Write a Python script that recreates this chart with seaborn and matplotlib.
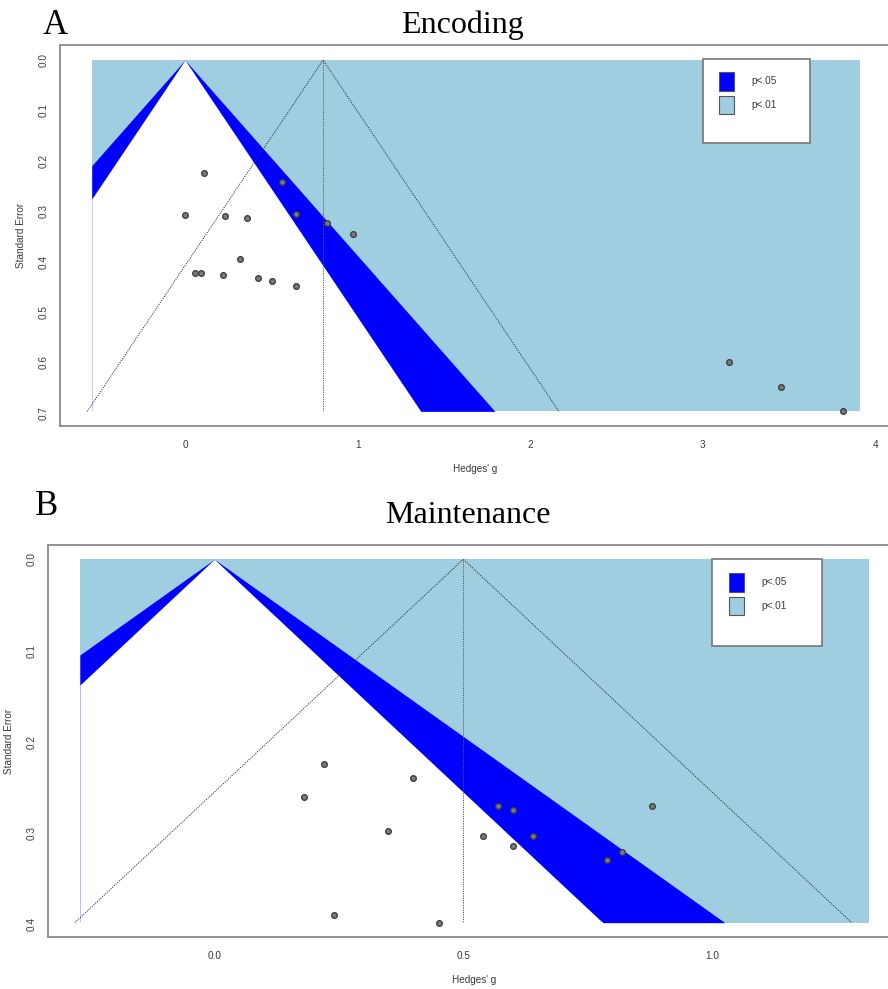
import numpy as np
import pandas as pd
import matplotlib
matplotlib.use("Agg")
import matplotlib.pyplot as plt
from matplotlib.patches import Patch, Rectangle
import seaborn as sns

# ---------------- data ----------------
enc_g = [0.112, 0.562, 0.002, 0.234, 0.361, 0.643, 0.823, 0.971, 0.321,
         0.060, 0.093, 0.222, 0.421, 0.502, 0.641, 3.150, 3.451, 3.810]
enc_se = [0.225, 0.241, 0.308, 0.310, 0.313, 0.305, 0.323, 0.346, 0.395,
          0.423, 0.423, 0.426, 0.433, 0.438, 0.448, 0.600, 0.649, 0.697]
enc_est = 0.80

mnt_g = [0.220, 0.400, 0.180, 0.569, 0.600, 0.349, 0.539, 0.640, 0.600,
         0.789, 0.819, 0.240, 0.451, 0.879]
mnt_se = [0.224, 0.240, 0.260, 0.270, 0.275, 0.298, 0.3035, 0.3035, 0.314,
          0.329, 0.321, 0.390, 0.398, 0.270]
mnt_est = 0.50

enc_xticks = [0, 1, 2, 3, 4]
enc_xticklabels = ["0", "1", "2", "3", "4"]
enc_yticks = [0.0, 0.1, 0.2, 0.3, 0.4, 0.5, 0.6, 0.7]
mnt_xticks = [0.0, 0.5, 1.0]
mnt_xticklabels = ["0.0", "0.5", "1.0"]
mnt_yticks = [0.0, 0.1, 0.2, 0.3, 0.4]

legend_labels = ["p<.05", "p<.01"]
z05, z01 = 1.96, 2.576

# ---------------- style ----------------
sns.set_theme(style="white")
plt.rcParams["font.family"] = ["Liberation Sans", "DejaVu Sans"]

BLUE = "#0000FF"
LBLUE = "#9FCEE0"
GRAY = "#8a8a8a"
TXT = "#3a3a3a"

W, H = 888, 989
fig = plt.figure(figsize=(W / 100, H / 100), dpi=100)


def px_axes(l, t, r, b):
    return fig.add_axes([l / W, 1 - b / H, (r - l) / W, (b - t) / H])


def funnel(ax, g, se, est, fill_x, xlim, ylim, xticks, xticklabels, yticks, yfmt):
    semax = max(se)
    xl, xr = fill_x
    s = np.linspace(0, semax, 400)
    # outer light blue region
    ax.fill_between([xl, xr], 0, semax, color=LBLUE, lw=0, zorder=1)
    # blue band (between z05 and z01)
    ax.fill_betweenx(s, np.clip(-z01 * s, xl, xr), np.clip(z01 * s, xl, xr),
                     color=BLUE, lw=0, zorder=2)
    # white region (|z| < 1.96)
    ax.fill_betweenx(s, np.clip(-z05 * s, xl, xr), np.clip(z05 * s, xl, xr),
                     color="white", lw=0, zorder=3)
    wl, wr = max(-z05 * semax, xl), min(z05 * semax, xr)
    ax.fill_between([wl, wr], semax - 0.0003, semax + 0.006, color="white",
                    lw=0, zorder=3)
    # pseudo-confidence triangle around estimate
    ax.plot([est - z05 * semax, est, est + z05 * semax], [semax, 0, semax],
            ls=(0, (1.2, 1.2)), color="#333333", lw=0.7, zorder=4)
    ax.plot([est, est], [0, semax], ls=(0, (1.2, 1.2)), color="#555555",
            lw=0.7, zorder=4)
    df = pd.DataFrame({"g": g, "se": se})
    sns.scatterplot(data=df, x="g", y="se", ax=ax, s=17, color="#7a7a7a",
                    edgecolor="#3a3a3a", linewidth=0.9, zorder=5, legend=False)
    ax.set_xlim(*xlim)
    ax.set_ylim(*ylim)
    ax.set_xticks(xticks)
    ax.set_xticklabels(xticklabels)
    ax.set_yticks(yticks)
    ax.set_yticklabels([yfmt.format(v) for v in yticks], rotation=90, va="center")
    ax.tick_params(axis="both", which="both", direction="out", length=5,
                   width=1, color=GRAY, labelsize=7.2, labelcolor=TXT)
    ax.tick_params(axis="x", pad=5)
    ax.tick_params(axis="y", pad=3)
    for side in ["left", "top", "bottom"]:
        ax.spines[side].set_visible(True)
        ax.spines[side].set_color(GRAY)
        ax.spines[side].set_linewidth(1.3)
    ax.spines["right"].set_visible(False)
    ax.set_xlabel("Hedges' g", fontsize=7.2, color=TXT, labelpad=10.5)
    ax.set_ylabel("Standard Error", fontsize=7.2, color=TXT, labelpad=9)
    ax.grid(False)
    ax.set_facecolor("white")


def legend_box(ax, l, t, r, b, hx, hy):
    fig.add_artist(Rectangle((l / W, 1 - b / H), (r - l) / W, (b - t) / H,
                             transform=fig.transFigure, facecolor="white",
                             edgecolor="#777777", lw=1.2, zorder=10))
    handles = [Patch(facecolor=BLUE, edgecolor="#555555", lw=0.8),
               Patch(facecolor=LBLUE, edgecolor="#555555", lw=0.8)]
    leg = fig.legend(handles=handles, labels=legend_labels, loc="upper left",
                     bbox_to_anchor=(hx / W, 1 - hy / H), frameon=False,
                     borderpad=0, borderaxespad=0, handlelength=1.5,
                     handleheight=2.5, handletextpad=1.7, labelspacing=0.5,
                     fontsize=7.2)
    for t_ in leg.get_texts():
        t_.set_color(TXT)
    leg.set_zorder(11)


# ---------------- Panel A ----------------
axA = px_axes(60, 45, 891, 426)
funnel(axA, enc_g, enc_se, enc_est, (-0.54, 3.91), (-0.724, 4.09),
       (0.726, -0.0298), enc_xticks, enc_xticklabels, enc_yticks, "{:.1f}")
legend_box(axA, 703, 59, 810, 143, 719, 72)

# ---------------- Panel B ----------------
axB = px_axes(48, 545, 900, 937)
funnel(axB, mnt_g, mnt_se, mnt_est, (-0.270, 1.314), (-0.334, 1.377),
       (0.4137, -0.0156), mnt_xticks, mnt_xticklabels, mnt_yticks, "{:.1f}")
legend_box(axB, 712, 559, 822, 646, 729, 573)

# ---------------- titles ----------------
serif = ["Liberation Serif", "DejaVu Serif"]
fig.text(462 / W, 1 - 33 / H, "Encoding", family=serif, fontsize=23,
         ha="center", va="baseline", color="black")
fig.text(55 / W, 1 - 34 / H, "A", family=serif, fontsize=25,
         ha="center", va="baseline", color="black")
fig.text(468 / W, 1 - 523 / H, "Maintenance", family=serif, fontsize=23,
         ha="center", va="baseline", color="black")
fig.text(47 / W, 1 - 515 / H, "B", family=serif, fontsize=25,
         ha="center", va="baseline", color="black")

fig.savefig("out.png", dpi=100, facecolor="white")
